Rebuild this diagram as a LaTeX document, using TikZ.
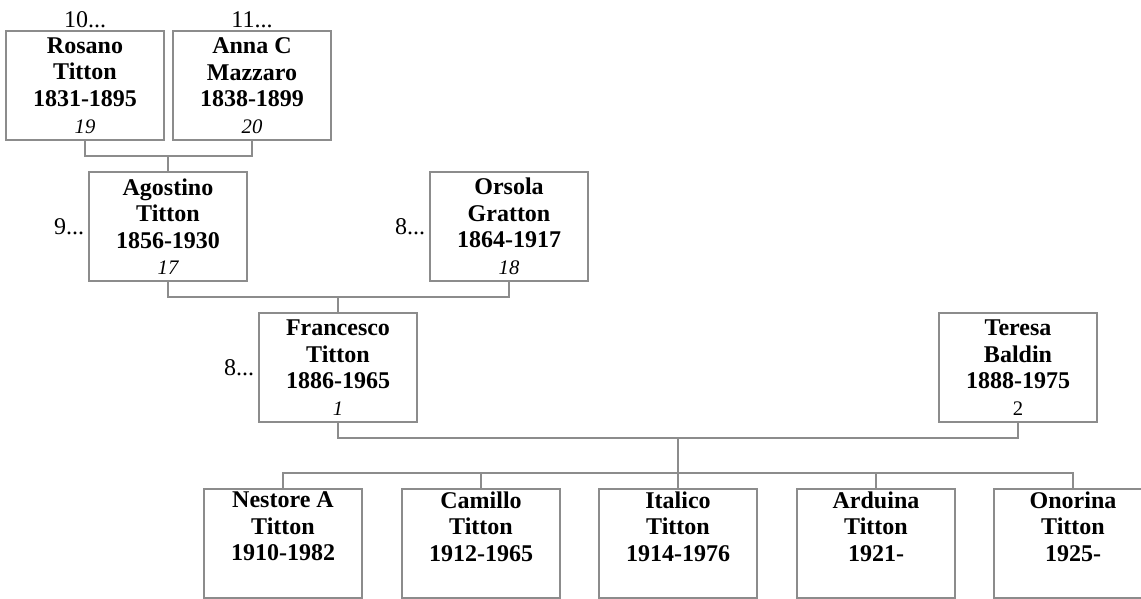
\documentclass[tikz,border=0pt]{standalone}
\usepackage{fontspec}
\setmainfont{Liberation Serif}
\usepackage{tikz}
\usetikzlibrary{positioning}

\newcommand{\idnum}[1]{{\normalfont\itshape\fontsize{15.5}{19.9}\selectfont #1}}
\newcommand{\upnum}[1]{{\normalfont\fontsize{15.5}{19.9}\selectfont #1}}

\begin{document}
\begin{tikzpicture}[x=0.75pt, y=-0.75pt,
		person_style/.style={rectangle,draw=black!45,line width=0.8pt,fill=white,
			minimum width=118.5pt,minimum height=81.75pt,inner sep=0pt,align=center,
			font=\bfseries\fontsize{18}{19.9}\selectfont},
		gen_style/.style={inner sep=1pt,font=\fontsize{18}{19.9}\selectfont},
		edge_style/.style={draw=black!45,line width=0.8pt}]

		\useasboundingbox (0,0) rectangle (1141,599);

		% grandparents
		\node[person_style] (rosano) at (85,85.5) {Rosano\\Titton\\1831-1895\\\idnum{19}};
		\node[person_style] (anna) at (252,85.5) {Anna C\\Mazzaro\\1838-1899\\\idnum{20}};
		\node[gen_style, above=1pt of rosano] (rosano_up) {10...};
		\node[gen_style, above=1pt of anna] (anna_up) {11...};

		% parents
		\node[person_style] (agostino) at (168,226.5) {Agostino\\Titton\\1856-1930\\\idnum{17}};
		\node[person_style] (orsola) at (509,226.5) {Orsola\\Gratton\\1864-1917\\\idnum{18}};
		\node[gen_style, left=2pt of agostino] (agostino_up) {9...};
		\node[gen_style, left=2pt of orsola] (orsola_up) {8...};

		% couple
		\node[person_style] (francesco) at (338,367.5) {Francesco\\Titton\\1886-1965\\\idnum{1}};
		\node[person_style] (teresa) at (1018,367.5) {Teresa\\Baldin\\1888-1975\\\upnum{2}};
		\node[gen_style, left=2pt of francesco] (francesco_up) {8...};

		% children
		\node[person_style] (nestore) at (283,543.5) {Nestore A\\Titton\\1910-1982\\\idnum{\strut}};
		\node[person_style] (camillo) at (481,543.5) {Camillo\\Titton\\1912-1965\\\idnum{\strut}};
		\node[person_style] (italico) at (678,543.5) {Italico\\Titton\\1914-1976\\\idnum{\strut}};
		\node[person_style] (arduina) at (876,543.5) {Arduina\\Titton\\1921-\\\idnum{\strut}};
		\node[person_style] (onorina) at (1073,543.5) {Onorina\\Titton\\1925-\\\idnum{\strut}};

		\coordinate (j1) at (168,156);
		\coordinate (j2) at (338,297);
		\coordinate (j3) at (678,438);
		\coordinate (j4) at (678,473);

		\draw[edge_style] (rosano.south) |- (j1) -| (anna.south);
		\draw[edge_style] (j1) -- (agostino.north);
		\draw[edge_style] (agostino.south) |- (j2) -| (orsola.south);
		\draw[edge_style] (j2) -- (francesco.north);
		\draw[edge_style] (francesco.south) |- (j3) -| (teresa.south);
		\draw[edge_style] (j3) -- (j4);
		\draw[edge_style] (nestore.north) |- (j4) -| (onorina.north);
		\draw[edge_style] (camillo.north) -- (camillo.north |- j4);
		\draw[edge_style] (italico.north) -- (j4);
		\draw[edge_style] (arduina.north) -- (arduina.north |- j4);

\end{tikzpicture}
\end{document}
